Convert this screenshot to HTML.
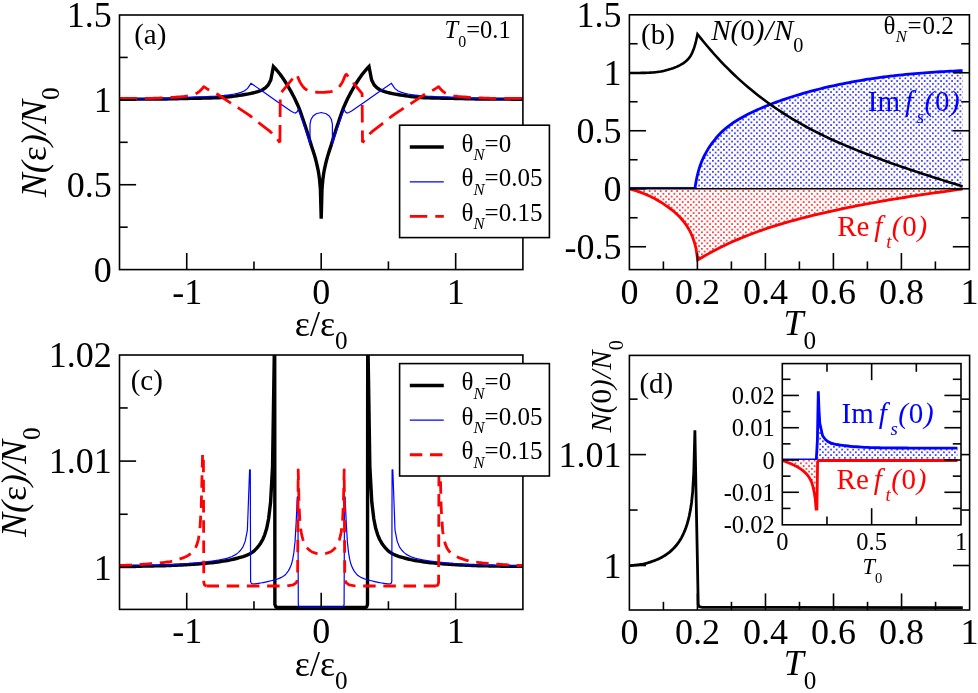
<!DOCTYPE html>
<html><head><meta charset="utf-8"><title>Figure</title>
<style>html,body{margin:0;padding:0;background:#fff;}body{width:978px;height:693px;overflow:hidden;font-family:"Liberation Serif",serif;}</style>
</head><body>
<svg width="978" height="693" viewBox="0 0 978 693" font-family="'Liberation Serif', serif" style="display:block;will-change:transform;opacity:0.999">
<rect width="978" height="693" fill="#fff"/>
<defs>
<pattern id="pb" x="2.5" y="0.4" width="5.5" height="5.5" patternUnits="userSpaceOnUse"><rect width="5.5" height="5.5" fill="#fff"/><circle cx="0.9" cy="0.9" r="0.88" fill="#0000ff"/><circle cx="3.65" cy="3.65" r="0.88" fill="#0000ff"/></pattern>
<pattern id="pr" x="2.5" y="0.4" width="5.5" height="5.5" patternUnits="userSpaceOnUse"><rect width="5.5" height="5.5" fill="#fff"/><circle cx="0.9" cy="0.9" r="0.88" fill="#ff0000"/><circle cx="3.65" cy="3.65" r="0.88" fill="#ff0000"/></pattern>
</defs>
<clipPath id="cA"><rect x="119.5" y="15" width="403.4" height="254.6"/></clipPath>
<g clip-path="url(#cA)">
<path d="M119.5 99.2 L122.11 99.2 L124.72 99.2 L127.33 99.19 L129.93 99.18 L132.54 99.17 L135.15 99.16 L137.76 99.15 L140.37 99.14 L142.98 99.12 L145.58 99.11 L148.19 99.09 L150.8 99.07 L153.41 99.05 L156.02 99.03 L158.63 99.01 L161.24 98.99 L163.84 98.96 L166.45 98.93 L169.06 98.88 L171.67 98.84 L174.28 98.78 L176.89 98.73 L179.49 98.67 L182.1 98.61 L184.71 98.55 L187.32 98.48 L189.93 98.42 L192.54 98.36 L195.15 98.3 L197.75 98.24 L200.36 98.19 L202.97 98.13 L205.58 98.08 L208.19 98.02 L210.8 97.95 L213.41 97.87 L216.01 97.78 L218.62 97.68 L221.23 97.52 L223.84 97.31 L226.45 97.05 L229.06 96.77 L231.66 96.48 L234.27 96.16 L236.88 95.8 L239.49 95.39 L242.1 94.97 L244.71 94.53 L247.32 94.07 L249.92 93.57 L252.53 93.01 L255.14 92.36 L257.75 91.61 L260.36 90.67 L262.97 89.46 L265.57 87.7 L268.18 85.01 L270.79 79.95 L273.4 66.5 L274.21 67.34 L275.02 68.2 L275.83 69.1 L276.64 70.03 L277.45 70.99 L278.26 71.98 L279.07 73 L279.88 74.04 L280.69 75.12 L281.5 76.23 L282.31 77.38 L283.12 78.56 L283.93 79.76 L284.74 81 L285.55 82.27 L286.36 83.57 L287.17 84.89 L287.98 86.24 L288.79 87.62 L289.6 89.03 L290.41 90.46 L291.22 91.92 L292.03 93.4 L292.84 94.93 L293.65 96.49 L294.46 98.1 L295.27 99.75 L296.08 101.46 L296.89 103.22 L297.71 105.05 L298.52 106.94 L299.33 108.95 L300.14 111.12 L300.95 113.39 L301.76 115.75 L302.57 118.13 L303.38 120.52 L304.19 122.92 L305 125.36 L305.81 127.84 L306.62 130.35 L307.43 132.89 L308.24 135.45 L309.05 138.05 L309.86 140.68 L310.67 143.32 L311.48 145.9 L312.29 148.4 L313.1 150.89 L313.91 153.43 L314.72 156.09 L315.53 158.95 L316.34 162.07 L317.15 165.52 L317.96 169.31 L318.77 173.82 L319.58 179.82 L320.39 189 L321.2 218.8 L322.01 189 L322.82 179.82 L323.63 173.82 L324.44 169.31 L325.25 165.52 L326.06 162.07 L326.87 158.95 L327.68 156.09 L328.49 153.43 L329.3 150.89 L330.11 148.4 L330.92 145.9 L331.73 143.32 L332.54 140.68 L333.35 138.05 L334.16 135.45 L334.97 132.89 L335.78 130.35 L336.59 127.84 L337.4 125.36 L338.21 122.92 L339.02 120.52 L339.83 118.13 L340.64 115.75 L341.45 113.39 L342.26 111.12 L343.07 108.95 L343.88 106.94 L344.69 105.05 L345.51 103.22 L346.32 101.46 L347.13 99.75 L347.94 98.1 L348.75 96.49 L349.56 94.93 L350.37 93.4 L351.18 91.92 L351.99 90.46 L352.8 89.03 L353.61 87.62 L354.42 86.24 L355.23 84.89 L356.04 83.57 L356.85 82.27 L357.66 81 L358.47 79.76 L359.28 78.56 L360.09 77.38 L360.9 76.23 L361.71 75.12 L362.52 74.04 L363.33 73 L364.14 71.98 L364.95 70.99 L365.76 70.03 L366.57 69.1 L367.38 68.2 L368.19 67.34 L369 66.5 L371.61 79.95 L374.22 85.01 L376.83 87.7 L379.43 89.46 L382.04 90.67 L384.65 91.61 L387.26 92.36 L389.87 93.01 L392.48 93.57 L395.08 94.07 L397.69 94.53 L400.3 94.97 L402.91 95.39 L405.52 95.8 L408.13 96.16 L410.74 96.48 L413.34 96.77 L415.95 97.05 L418.56 97.31 L421.17 97.52 L423.78 97.68 L426.39 97.78 L428.99 97.87 L431.6 97.95 L434.21 98.02 L436.82 98.08 L439.43 98.13 L442.04 98.19 L444.65 98.24 L447.25 98.3 L449.86 98.36 L452.47 98.42 L455.08 98.48 L457.69 98.55 L460.3 98.61 L462.91 98.67 L465.51 98.73 L468.12 98.78 L470.73 98.84 L473.34 98.88 L475.95 98.93 L478.56 98.96 L481.16 98.99 L483.77 99.01 L486.38 99.03 L488.99 99.05 L491.6 99.07 L494.21 99.09 L496.82 99.11 L499.42 99.12 L502.03 99.14 L504.64 99.15 L507.25 99.16 L509.86 99.17 L512.47 99.18 L515.07 99.19 L517.68 99.2 L520.29 99.2 L522.9 99.2" fill="none" stroke="#000" stroke-width="3.4" stroke-linejoin="miter" stroke-miterlimit="10"/>
<path d="M119.5 99 L122.87 99 L126.24 98.99 L129.62 98.98 L132.99 98.96 L136.36 98.94 L139.73 98.92 L143.1 98.89 L146.47 98.86 L149.85 98.82 L153.22 98.78 L156.59 98.74 L159.96 98.7 L163.33 98.64 L166.71 98.54 L170.08 98.41 L173.45 98.26 L176.82 98.08 L180.19 97.9 L183.56 97.71 L186.94 97.52 L190.31 97.34 L193.68 97.16 L197.05 97.01 L200.42 96.87 L203.79 96.73 L207.17 96.59 L210.54 96.44 L213.91 96.26 L217.28 96.06 L220.65 95.8 L224.03 95.47 L227.4 95.06 L230.77 94.58 L234.14 94.02 L237.51 93.32 L240.88 92.38 L244.26 91.03 L247.63 88.39 L251 83.3 L264.3 92.5 L278.1 102.3 L290.8 111 L293.5 112.5 L295.4 113 L297.1 111.8 L298.4 109.2 L302.2 120 L306 131 L309.3 141.5 L309.9 143.6 L310 139.6 L310 124 L311 119.5 L313.2 116 L316.2 113.7 L321.2 112.5 L326.2 113.7 L329.2 116 L331.4 119.5 L332.4 124 L332.4 139.6 L332.5 143.6 L333.1 141.5 L336.4 131 L340.2 120 L344 109.2 L345.3 111.8 L347 113 L348.9 112.5 L351.6 111 L364.3 102.3 L378.1 92.5 L391.4 83.3 L394.77 88.39 L398.14 91.03 L401.52 92.38 L404.89 93.32 L408.26 94.02 L411.63 94.58 L415 95.06 L418.37 95.47 L421.75 95.8 L425.12 96.06 L428.49 96.26 L431.86 96.44 L435.23 96.59 L438.61 96.73 L441.98 96.87 L445.35 97.01 L448.72 97.16 L452.09 97.34 L455.46 97.52 L458.84 97.71 L462.21 97.9 L465.58 98.08 L468.95 98.26 L472.32 98.41 L475.69 98.54 L479.07 98.64 L482.44 98.7 L485.81 98.74 L489.18 98.78 L492.55 98.82 L495.93 98.86 L499.3 98.89 L502.67 98.92 L506.04 98.94 L509.41 98.96 L512.78 98.98 L516.16 98.99 L519.53 99 L522.9 99" fill="none" stroke="#0000ff" stroke-width="1.2" stroke-linejoin="miter" stroke-miterlimit="10"/>
<path d="M119.5 98.4 L121.66 98.4 L123.82 98.4 L125.98 98.4 L128.15 98.4 L130.31 98.4 L132.47 98.4 L134.63 98.4 L136.79 98.4 L138.95 98.4 L141.12 98.4 L143.28 98.4 L145.44 98.4 L147.6 98.38 L149.76 98.34 L151.92 98.28 L154.08 98.21 L156.25 98.14 L158.41 98.05 L160.57 97.97 L162.73 97.88 L164.89 97.79 L167.05 97.68 L169.22 97.56 L171.38 97.43 L173.54 97.3 L175.7 97.16 L177.86 97.01 L180.02 96.84 L182.18 96.65 L184.35 96.44 L186.51 96.18 L188.67 95.88 L190.83 95.45 L192.99 94.85 L195.15 94.1 L197.32 92.99 L199.48 91.39 L201.64 89.35 L203.8 86.6 L206.42 88.38 L209.05 90 L211.67 91.38 L214.3 92.62 L216.92 93.99 L219.54 95.57 L222.17 97.27 L224.79 99.05 L227.42 100.85 L230.04 102.61 L232.67 104.31 L235.29 105.96 L237.91 107.64 L240.54 109.35 L243.16 111.07 L245.79 112.83 L248.41 114.63 L251.03 116.51 L253.66 118.51 L256.28 120.67 L258.91 122.83 L261.53 124.85 L264.16 126.81 L266.78 128.8 L269.4 130.91 L272.03 133.24 L274.65 135.93 L277.28 139.02 L279.9 142.6" fill="none" stroke="#ff0000" stroke-width="2.8" stroke-linejoin="round" stroke-miterlimit="10" stroke-dasharray="17.5 8"/>
<path d="M279.9 142.6 L280.3 93.6 L293.1 78 L295.9 74.3 L297.23 75.37 L298.56 78.9 L299.89 81.82 L301.23 84.18 L302.56 86.02 L303.89 87.62 L305.22 88.89 L306.55 89.69 L307.88 90.32 L309.22 90.86 L310.55 91.3 L311.88 91.64 L313.21 91.87 L314.54 92.01 L315.87 92.14 L317.21 92.24 L318.54 92.33 L319.87 92.38 L321.2 92.4 L322.53 92.38 L323.86 92.33 L325.19 92.24 L326.53 92.14 L327.86 92.01 L329.19 91.87 L330.52 91.64 L331.85 91.3 L333.18 90.86 L334.52 90.32 L335.85 89.69 L337.18 88.89 L338.51 87.62 L339.84 86.02 L341.17 84.18 L342.51 81.82 L343.84 78.9 L345.17 75.37 L346.5 74.3 L349.3 78 L362.1 93.6 L362.5 142.6" fill="none" stroke="#ff0000" stroke-width="2.8" stroke-linejoin="round" stroke-miterlimit="10" stroke-dasharray="17.5 8"/>
<path d="M362.5 142.6 L365.12 139.02 L367.75 135.93 L370.37 133.24 L373 130.91 L375.62 128.8 L378.24 126.81 L380.87 124.85 L383.49 122.83 L386.12 120.67 L388.74 118.51 L391.37 116.51 L393.99 114.63 L396.61 112.83 L399.24 111.07 L401.86 109.35 L404.49 107.64 L407.11 105.96 L409.73 104.31 L412.36 102.61 L414.98 100.85 L417.61 99.05 L420.23 97.27 L422.86 95.57 L425.48 93.99 L428.1 92.62 L430.73 91.38 L433.35 90 L435.98 88.38 L438.6 86.6 L440.76 89.35 L442.92 91.39 L445.08 92.99 L447.25 94.1 L449.41 94.85 L451.57 95.45 L453.73 95.88 L455.89 96.18 L458.05 96.44 L460.22 96.65 L462.38 96.84 L464.54 97.01 L466.7 97.16 L468.86 97.3 L471.02 97.43 L473.18 97.56 L475.35 97.68 L477.51 97.79 L479.67 97.88 L481.83 97.97 L483.99 98.05 L486.15 98.14 L488.32 98.21 L490.48 98.28 L492.64 98.34 L494.8 98.38 L496.96 98.4 L499.12 98.4 L501.28 98.4 L503.45 98.4 L505.61 98.4 L507.77 98.4 L509.93 98.4 L512.09 98.4 L514.25 98.4 L516.42 98.4 L518.58 98.4 L520.74 98.4 L522.9 98.4" fill="none" stroke="#ff0000" stroke-width="2.8" stroke-linejoin="round" stroke-miterlimit="10" stroke-dasharray="17.5 8" stroke-dashoffset="14.51"/>
</g>
<rect x="119.5" y="15" width="403.4" height="254.6" fill="none" stroke="#000" stroke-width="1.6"/>
<line x1="119.5" y1="184.73" x2="136.1" y2="184.73" stroke="#000" stroke-width="1.6"/>
<line x1="119.5" y1="99.87" x2="136.1" y2="99.87" stroke="#000" stroke-width="1.6"/>
<line x1="119.5" y1="227.17" x2="127.7" y2="227.17" stroke="#000" stroke-width="1.6"/>
<line x1="119.5" y1="142.3" x2="127.7" y2="142.3" stroke="#000" stroke-width="1.6"/>
<line x1="119.5" y1="57.43" x2="127.7" y2="57.43" stroke="#000" stroke-width="1.6"/>
<line x1="186.73" y1="269.6" x2="186.73" y2="253" stroke="#000" stroke-width="1.6"/>
<line x1="321.2" y1="269.6" x2="321.2" y2="253" stroke="#000" stroke-width="1.6"/>
<line x1="455.67" y1="269.6" x2="455.67" y2="253" stroke="#000" stroke-width="1.6"/>
<line x1="253.97" y1="269.6" x2="253.97" y2="261.4" stroke="#000" stroke-width="1.6"/>
<line x1="388.43" y1="269.6" x2="388.43" y2="261.4" stroke="#000" stroke-width="1.6"/>
<g fill="#000"><text x="66.7" y="27.2" font-size="36">1.5</text></g>
<g fill="#000"><text x="93.7" y="112.07" font-size="36">1</text></g>
<g fill="#000"><text x="66.7" y="196.93" font-size="36">0.5</text></g>
<g fill="#000"><text x="93.7" y="281.8" font-size="36">0</text></g>
<g fill="#000"><text x="172.24" y="303.5" font-size="36">-1</text></g>
<g fill="#000"><text x="312.2" y="303.5" font-size="36">0</text></g>
<g fill="#000"><text x="446.67" y="303.5" font-size="36">1</text></g>
<g fill="#000"><text x="294.77" y="335.8" font-size="36">ε</text><text x="309.89" y="335.8" font-size="36">/</text><text x="319.89" y="335.8" font-size="36">ε</text><text x="335.01" y="349.4" font-size="25.2">0</text></g>
<g fill="#000" transform="rotate(-90 45.6 142.3)"><text x="-9.27" y="142.3" font-size="36" font-style="italic">N</text><text x="14.74" y="142.3" font-size="36" font-style="italic">(</text><text x="26.73" y="142.3" font-size="36">ε</text><text x="41.84" y="142.3" font-size="36" font-style="italic">)</text><text x="53.83" y="142.3" font-size="36" font-style="italic">/</text><text x="63.84" y="142.3" font-size="36" font-style="italic">N</text><text x="87.85" y="155.9" font-size="25.2">0</text></g>
<g fill="#000"><text x="134.2" y="44.3" font-size="29">(a)</text></g>
<g fill="#000"><text x="444.6" y="37.7" font-size="24.5" font-style="italic">T</text><text x="458.23" y="47.1" font-size="15.93">0</text><text x="466.23" y="37.7" font-size="24.5">=0.1</text></g>
<rect x="399.6" y="125.2" width="149.8" height="112.4" fill="#fff" stroke="#000" stroke-width="1.6"/>
<line x1="409.8" y1="147.1" x2="443.8" y2="147.1" stroke="#000" stroke-width="3.5"/>
<line x1="409.8" y1="181.8" x2="443.8" y2="181.8" stroke="#0000ff" stroke-width="1.2"/>
<line x1="409.8" y1="216.4" x2="443.8" y2="216.4" stroke="#ff0000" stroke-width="2.9" stroke-dasharray="17.5 8"/>
<g fill="#000"><text x="461.6" y="151.5" font-size="25">θ</text><text x="473.58" y="160.1" font-size="16.5" font-style="italic">N</text><text x="484.58" y="151.5" font-size="25">=</text><text x="498.68" y="151.5" font-size="25">0</text></g>
<g fill="#000"><text x="461.6" y="186.2" font-size="25">θ</text><text x="473.58" y="194.8" font-size="16.5" font-style="italic">N</text><text x="484.58" y="186.2" font-size="25">=</text><text x="498.68" y="186.2" font-size="25">0.05</text></g>
<g fill="#000"><text x="461.6" y="220.8" font-size="25">θ</text><text x="473.58" y="229.4" font-size="16.5" font-style="italic">N</text><text x="484.58" y="220.8" font-size="25">=</text><text x="498.68" y="220.8" font-size="25">0.15</text></g>
<clipPath id="cB"><rect x="629.4" y="14.8" width="340" height="254.8"/></clipPath>
<g clip-path="url(#cB)">
<path d="M695 188.75 L695 188.2 L695.62 183.86 L696.25 180.46 L696.87 177.44 L697.5 174.75 L698.12 172.32 L698.74 170.09 L699.37 168.01 L699.99 166.08 L700.62 164.3 L701.24 162.65 L701.87 161.11 L702.49 159.66 L703.11 158.29 L703.74 156.98 L704.36 155.72 L704.99 154.52 L705.61 153.37 L706.23 152.25 L706.86 151.16 L707.48 150.09 L708.11 149.05 L708.73 148.03 L709.36 147.04 L709.98 146.08 L710.6 145.16 L711.23 144.26 L711.85 143.41 L712.48 142.58 L713.1 141.8 L716.26 137.8 L719.42 134.25 L722.57 131.1 L725.73 128.3 L728.89 125.79 L732.05 123.52 L735.21 121.44 L738.37 119.5 L741.52 117.67 L744.68 115.94 L747.84 114.31 L751 112.74 L754.16 111.25 L757.32 109.82 L760.47 108.43 L763.63 107.09 L766.79 105.79 L769.95 104.53 L773.11 103.31 L776.26 102.13 L779.42 100.99 L782.58 99.88 L785.74 98.81 L788.9 97.76 L792.06 96.75 L795.21 95.76 L798.37 94.8 L801.53 93.86 L804.69 92.95 L807.85 92.06 L811.01 91.2 L814.16 90.35 L817.32 89.53 L820.48 88.74 L823.64 87.96 L826.8 87.21 L829.95 86.48 L833.11 85.77 L836.27 85.08 L839.43 84.41 L842.59 83.76 L845.75 83.13 L848.9 82.52 L852.06 81.93 L855.22 81.35 L858.38 80.8 L861.54 80.26 L864.69 79.75 L867.85 79.24 L871.01 78.76 L874.17 78.29 L877.33 77.84 L880.49 77.41 L883.64 76.99 L886.8 76.58 L889.96 76.19 L893.12 75.82 L896.28 75.46 L899.44 75.11 L902.59 74.78 L905.75 74.46 L908.91 74.16 L912.07 73.86 L915.23 73.58 L918.38 73.31 L921.54 73.05 L924.7 72.81 L927.86 72.57 L931.02 72.35 L934.18 72.13 L937.33 71.93 L940.49 71.73 L943.65 71.54 L946.81 71.37 L949.97 71.2 L953.13 71.04 L956.28 70.88 L959.44 70.74 L962.6 70.6 L962.6 188.75" fill="url(#pb)" stroke="none" stroke-width="0" stroke-linejoin="miter" stroke-miterlimit="10"/>
<path d="M629.4 188.35 L694.5 188.35 L695 188.2 L695.62 183.86 L696.25 180.46 L696.87 177.44 L697.5 174.75 L698.12 172.32 L698.74 170.09 L699.37 168.01 L699.99 166.08 L700.62 164.3 L701.24 162.65 L701.87 161.11 L702.49 159.66 L703.11 158.29 L703.74 156.98 L704.36 155.72 L704.99 154.52 L705.61 153.37 L706.23 152.25 L706.86 151.16 L707.48 150.09 L708.11 149.05 L708.73 148.03 L709.36 147.04 L709.98 146.08 L710.6 145.16 L711.23 144.26 L711.85 143.41 L712.48 142.58 L713.1 141.8 L716.26 137.8 L719.42 134.25 L722.57 131.1 L725.73 128.3 L728.89 125.79 L732.05 123.52 L735.21 121.44 L738.37 119.5 L741.52 117.67 L744.68 115.94 L747.84 114.31 L751 112.74 L754.16 111.25 L757.32 109.82 L760.47 108.43 L763.63 107.09 L766.79 105.79 L769.95 104.53 L773.11 103.31 L776.26 102.13 L779.42 100.99 L782.58 99.88 L785.74 98.81 L788.9 97.76 L792.06 96.75 L795.21 95.76 L798.37 94.8 L801.53 93.86 L804.69 92.95 L807.85 92.06 L811.01 91.2 L814.16 90.35 L817.32 89.53 L820.48 88.74 L823.64 87.96 L826.8 87.21 L829.95 86.48 L833.11 85.77 L836.27 85.08 L839.43 84.41 L842.59 83.76 L845.75 83.13 L848.9 82.52 L852.06 81.93 L855.22 81.35 L858.38 80.8 L861.54 80.26 L864.69 79.75 L867.85 79.24 L871.01 78.76 L874.17 78.29 L877.33 77.84 L880.49 77.41 L883.64 76.99 L886.8 76.58 L889.96 76.19 L893.12 75.82 L896.28 75.46 L899.44 75.11 L902.59 74.78 L905.75 74.46 L908.91 74.16 L912.07 73.86 L915.23 73.58 L918.38 73.31 L921.54 73.05 L924.7 72.81 L927.86 72.57 L931.02 72.35 L934.18 72.13 L937.33 71.93 L940.49 71.73 L943.65 71.54 L946.81 71.37 L949.97 71.2 L953.13 71.04 L956.28 70.88 L959.44 70.74 L962.6 70.6" fill="none" stroke="#0000ff" stroke-width="2.8" stroke-linejoin="round" stroke-miterlimit="10"/>
<path d="M629.4 188.75 L629.6 189 L631.35 189.45 L633.09 189.94 L634.84 190.46 L636.58 191 L638.33 191.58 L640.08 192.18 L641.82 192.83 L643.57 193.51 L645.32 194.22 L647.06 194.96 L648.81 195.74 L650.55 196.56 L652.3 197.41 L654.05 198.31 L655.79 199.24 L657.54 200.22 L659.28 201.24 L661.03 202.31 L662.78 203.43 L664.52 204.59 L666.27 205.79 L668.02 207.02 L669.76 208.29 L671.51 209.62 L673.25 211.02 L675 212.52 L676.75 214.11 L678.49 215.78 L680.24 217.57 L681.98 219.51 L683.73 221.63 L685.48 223.96 L687.22 226.53 L688.97 229.44 L690.72 232.77 L692.46 236.68 L694.21 241.73 L695.95 248.07 L697.7 260 L701.05 257.98 L704.41 256.03 L707.76 254.13 L711.11 252.29 L714.47 250.5 L717.82 248.76 L721.17 247.07 L724.53 245.44 L727.88 243.85 L731.23 242.31 L734.58 240.81 L737.94 239.36 L741.29 237.95 L744.64 236.58 L748 235.25 L751.35 233.96 L754.7 232.71 L758.06 231.49 L761.41 230.31 L764.76 229.16 L768.12 228.04 L771.47 226.95 L774.82 225.89 L778.18 224.86 L781.53 223.85 L784.88 222.87 L788.24 221.91 L791.59 220.97 L794.94 220.05 L798.29 219.16 L801.65 218.27 L805 217.41 L808.35 216.56 L811.71 215.73 L815.06 214.91 L818.41 214.1 L821.77 213.31 L825.12 212.53 L828.47 211.77 L831.83 211.02 L835.18 210.28 L838.53 209.55 L841.89 208.84 L845.24 208.14 L848.59 207.45 L851.95 206.77 L855.3 206.1 L858.65 205.45 L862.01 204.8 L865.36 204.17 L868.71 203.54 L872.06 202.93 L875.42 202.32 L878.77 201.72 L882.12 201.14 L885.48 200.56 L888.83 199.99 L892.18 199.42 L895.54 198.87 L898.89 198.32 L902.24 197.78 L905.6 197.25 L908.95 196.72 L912.3 196.2 L915.66 195.69 L919.01 195.18 L922.36 194.68 L925.72 194.18 L929.07 193.69 L932.42 193.21 L935.77 192.72 L939.13 192.25 L942.48 191.77 L945.83 191.3 L949.19 190.84 L952.54 190.37 L955.89 189.91 L959.25 189.45 L962.6 189 L962.6 188.75" fill="url(#pr)" stroke="none" stroke-width="0" stroke-linejoin="miter" stroke-miterlimit="10"/>
<path d="M629.6 189 L631.35 189.45 L633.09 189.94 L634.84 190.46 L636.58 191 L638.33 191.58 L640.08 192.18 L641.82 192.83 L643.57 193.51 L645.32 194.22 L647.06 194.96 L648.81 195.74 L650.55 196.56 L652.3 197.41 L654.05 198.31 L655.79 199.24 L657.54 200.22 L659.28 201.24 L661.03 202.31 L662.78 203.43 L664.52 204.59 L666.27 205.79 L668.02 207.02 L669.76 208.29 L671.51 209.62 L673.25 211.02 L675 212.52 L676.75 214.11 L678.49 215.78 L680.24 217.57 L681.98 219.51 L683.73 221.63 L685.48 223.96 L687.22 226.53 L688.97 229.44 L690.72 232.77 L692.46 236.68 L694.21 241.73 L695.95 248.07 L697.7 260 L701.05 257.98 L704.41 256.03 L707.76 254.13 L711.11 252.29 L714.47 250.5 L717.82 248.76 L721.17 247.07 L724.53 245.44 L727.88 243.85 L731.23 242.31 L734.58 240.81 L737.94 239.36 L741.29 237.95 L744.64 236.58 L748 235.25 L751.35 233.96 L754.7 232.71 L758.06 231.49 L761.41 230.31 L764.76 229.16 L768.12 228.04 L771.47 226.95 L774.82 225.89 L778.18 224.86 L781.53 223.85 L784.88 222.87 L788.24 221.91 L791.59 220.97 L794.94 220.05 L798.29 219.16 L801.65 218.27 L805 217.41 L808.35 216.56 L811.71 215.73 L815.06 214.91 L818.41 214.1 L821.77 213.31 L825.12 212.53 L828.47 211.77 L831.83 211.02 L835.18 210.28 L838.53 209.55 L841.89 208.84 L845.24 208.14 L848.59 207.45 L851.95 206.77 L855.3 206.1 L858.65 205.45 L862.01 204.8 L865.36 204.17 L868.71 203.54 L872.06 202.93 L875.42 202.32 L878.77 201.72 L882.12 201.14 L885.48 200.56 L888.83 199.99 L892.18 199.42 L895.54 198.87 L898.89 198.32 L902.24 197.78 L905.6 197.25 L908.95 196.72 L912.3 196.2 L915.66 195.69 L919.01 195.18 L922.36 194.68 L925.72 194.18 L929.07 193.69 L932.42 193.21 L935.77 192.72 L939.13 192.25 L942.48 191.77 L945.83 191.3 L949.19 190.84 L952.54 190.37 L955.89 189.91 L959.25 189.45 L962.6 189" fill="none" stroke="#ff0000" stroke-width="2.8" stroke-linejoin="miter" stroke-miterlimit="10"/>
<path d="M629.4 73 L631.15 73 L632.89 72.99 L634.64 72.98 L636.38 72.97 L638.13 72.95 L639.88 72.93 L641.62 72.91 L643.37 72.88 L645.12 72.84 L646.86 72.79 L648.61 72.72 L650.35 72.63 L652.1 72.53 L653.85 72.39 L655.59 72.2 L657.34 71.98 L659.08 71.74 L660.83 71.47 L662.58 71.14 L664.32 70.75 L666.07 70.31 L667.82 69.85 L669.56 69.35 L671.31 68.81 L673.05 68.2 L674.8 67.54 L676.55 66.83 L678.29 66.05 L680.04 65.19 L681.78 64.21 L683.53 63.09 L685.28 61.79 L687.02 60.24 L688.77 58.37 L690.52 56.03 L692.26 52.6 L694.01 48.29 L695.75 42.46 L697.5 34.2 L700.86 38.41 L704.21 42.53 L707.57 46.54 L710.92 50.44 L714.28 54.24 L717.63 57.94 L720.99 61.53 L724.35 65.03 L727.7 68.43 L731.06 71.74 L734.41 74.97 L737.77 78.1 L741.12 81.15 L744.48 84.11 L747.84 87 L751.19 89.81 L754.55 92.54 L757.9 95.2 L761.26 97.78 L764.61 100.3 L767.97 102.76 L771.33 105.15 L774.68 107.48 L778.04 109.75 L781.39 111.96 L784.75 114.12 L788.1 116.23 L791.46 118.28 L794.82 120.28 L798.17 122.24 L801.53 124.15 L804.88 126.01 L808.24 127.83 L811.59 129.6 L814.95 131.34 L818.31 133.03 L821.66 134.69 L825.02 136.31 L828.37 137.9 L831.73 139.45 L835.08 140.97 L838.44 142.47 L841.79 143.93 L845.15 145.37 L848.51 146.78 L851.86 148.17 L855.22 149.53 L858.57 150.88 L861.93 152.2 L865.28 153.51 L868.64 154.8 L872 156.08 L875.35 157.34 L878.71 158.59 L882.06 159.82 L885.42 161.04 L888.77 162.24 L892.13 163.43 L895.49 164.61 L898.84 165.78 L902.2 166.94 L905.55 168.08 L908.91 169.22 L912.26 170.34 L915.62 171.46 L918.98 172.57 L922.33 173.66 L925.69 174.76 L929.04 175.84 L932.4 176.92 L935.75 177.99 L939.11 179.06 L942.47 180.12 L945.82 181.17 L949.18 182.22 L952.53 183.27 L955.89 184.32 L959.24 185.36 L962.6 186.4" fill="none" stroke="#000" stroke-width="2.6" stroke-linejoin="miter" stroke-miterlimit="10"/>
<line x1="629.4" y1="188.75" x2="962.6" y2="188.75" stroke="#000" stroke-width="1.4"/>
</g>
<rect x="629.4" y="14.8" width="340" height="254.8" fill="none" stroke="#000" stroke-width="1.6"/>
<line x1="629.4" y1="246.75" x2="646" y2="246.75" stroke="#000" stroke-width="1.6"/>
<line x1="969.4" y1="246.75" x2="952.8" y2="246.75" stroke="#000" stroke-width="1.6"/>
<line x1="629.4" y1="188.75" x2="646" y2="188.75" stroke="#000" stroke-width="1.6"/>
<line x1="969.4" y1="188.75" x2="952.8" y2="188.75" stroke="#000" stroke-width="1.6"/>
<line x1="629.4" y1="130.75" x2="646" y2="130.75" stroke="#000" stroke-width="1.6"/>
<line x1="969.4" y1="130.75" x2="952.8" y2="130.75" stroke="#000" stroke-width="1.6"/>
<line x1="629.4" y1="72.75" x2="646" y2="72.75" stroke="#000" stroke-width="1.6"/>
<line x1="969.4" y1="72.75" x2="952.8" y2="72.75" stroke="#000" stroke-width="1.6"/>
<line x1="629.4" y1="217.75" x2="637.6" y2="217.75" stroke="#000" stroke-width="1.6"/>
<line x1="969.4" y1="217.75" x2="961.2" y2="217.75" stroke="#000" stroke-width="1.6"/>
<line x1="629.4" y1="159.75" x2="637.6" y2="159.75" stroke="#000" stroke-width="1.6"/>
<line x1="969.4" y1="159.75" x2="961.2" y2="159.75" stroke="#000" stroke-width="1.6"/>
<line x1="629.4" y1="101.75" x2="637.6" y2="101.75" stroke="#000" stroke-width="1.6"/>
<line x1="969.4" y1="101.75" x2="961.2" y2="101.75" stroke="#000" stroke-width="1.6"/>
<line x1="629.4" y1="43.75" x2="637.6" y2="43.75" stroke="#000" stroke-width="1.6"/>
<line x1="969.4" y1="43.75" x2="961.2" y2="43.75" stroke="#000" stroke-width="1.6"/>
<line x1="697.4" y1="269.6" x2="697.4" y2="253" stroke="#000" stroke-width="1.6"/>
<line x1="765.4" y1="269.6" x2="765.4" y2="253" stroke="#000" stroke-width="1.6"/>
<line x1="833.4" y1="269.6" x2="833.4" y2="253" stroke="#000" stroke-width="1.6"/>
<line x1="901.4" y1="269.6" x2="901.4" y2="253" stroke="#000" stroke-width="1.6"/>
<line x1="663.4" y1="269.6" x2="663.4" y2="261.4" stroke="#000" stroke-width="1.6"/>
<line x1="731.4" y1="269.6" x2="731.4" y2="261.4" stroke="#000" stroke-width="1.6"/>
<line x1="799.4" y1="269.6" x2="799.4" y2="261.4" stroke="#000" stroke-width="1.6"/>
<line x1="867.4" y1="269.6" x2="867.4" y2="261.4" stroke="#000" stroke-width="1.6"/>
<line x1="935.4" y1="269.6" x2="935.4" y2="261.4" stroke="#000" stroke-width="1.6"/>
<g fill="#000"><text x="576.6" y="26.95" font-size="36">1.5</text></g>
<g fill="#000"><text x="603.6" y="84.95" font-size="36">1</text></g>
<g fill="#000"><text x="576.6" y="142.95" font-size="36">0.5</text></g>
<g fill="#000"><text x="603.6" y="200.95" font-size="36">0</text></g>
<g fill="#000"><text x="564.61" y="258.95" font-size="36">-0.5</text></g>
<g fill="#000"><text x="620.4" y="303.5" font-size="36">0</text></g>
<g fill="#000"><text x="674.9" y="303.5" font-size="36">0.2</text></g>
<g fill="#000"><text x="742.9" y="303.5" font-size="36">0.4</text></g>
<g fill="#000"><text x="810.9" y="303.5" font-size="36">0.6</text></g>
<g fill="#000"><text x="878.9" y="303.5" font-size="36">0.8</text></g>
<g fill="#000"><text x="960.4" y="303.5" font-size="36">1</text></g>
<g fill="#000"><text x="783.58" y="335.2" font-size="36" font-style="italic">T</text><text x="803.6" y="349" font-size="25.2">0</text></g>
<g fill="#000"><text x="641" y="43.9" font-size="29">(b)</text></g>
<g fill="#000"><text x="711.2" y="40" font-size="29" font-style="italic">N</text><text x="730.54" y="40" font-size="29" font-style="italic">(</text><text x="740.2" y="40" font-size="29">0</text><text x="754.7" y="40" font-size="29" font-style="italic">)</text><text x="765.16" y="40" font-size="29" font-style="italic">/</text><text x="774.01" y="40" font-size="29" font-style="italic">N</text><text x="793.36" y="52.2" font-size="20.3">0</text></g>
<g fill="#000"><text x="883.6" y="33.7" font-size="25">θ</text><text x="895.79" y="42.3" font-size="16.5" font-style="italic">N</text><text x="907.42" y="33.7" font-size="25">=</text><text x="922.57" y="33.7" font-size="25">0.2</text></g>
<g fill="#0000ff"><text x="867.8" y="111" font-size="29">Im</text><text x="904.88" y="111" font-size="29" font-style="italic">f</text><text x="916.73" y="122.89" font-size="18.85" font-style="italic">s</text><text x="924.53" y="111" font-size="29" font-style="italic">(</text><text x="934.89" y="111" font-size="29">0</text><text x="950.09" y="111" font-size="29" font-style="italic">)</text></g>
<g fill="#ff0000"><text x="837.2" y="236" font-size="29">Re</text><text x="874.28" y="236" font-size="29" font-style="italic">f</text><text x="886.13" y="247.89" font-size="18.85" font-style="italic">t</text><text x="891.84" y="236" font-size="29" font-style="italic">(</text><text x="902.2" y="236" font-size="29">0</text><text x="917.4" y="236" font-size="29" font-style="italic">)</text></g>
<clipPath id="cC"><rect x="119.5" y="355" width="403.4" height="254.4"/></clipPath>
<g clip-path="url(#cC)">
<path d="M119.5 566.4 L121.46 566.4 L123.42 566.39 L125.39 566.38 L127.35 566.37 L129.31 566.35 L131.27 566.33 L133.23 566.31 L135.2 566.28 L137.16 566.26 L139.12 566.23 L141.08 566.19 L143.04 566.16 L145.01 566.12 L146.97 566.08 L148.93 566.04 L150.89 566 L152.85 565.96 L154.82 565.92 L156.78 565.87 L158.74 565.83 L160.7 565.78 L162.66 565.73 L164.63 565.68 L166.59 565.62 L168.55 565.55 L170.51 565.48 L172.47 565.4 L174.44 565.32 L176.4 565.24 L178.36 565.15 L180.32 565.05 L182.28 564.95 L184.25 564.85 L186.21 564.74 L188.17 564.62 L190.13 564.51 L192.09 564.39 L194.06 564.26 L196.02 564.13 L197.98 563.99 L199.94 563.84 L201.91 563.68 L203.87 563.5 L205.83 563.32 L207.79 563.12 L209.75 562.91 L211.72 562.69 L213.68 562.46 L215.64 562.22 L217.6 561.96 L219.56 561.7 L221.53 561.42 L223.49 561.13 L225.45 560.83 L227.41 560.49 L229.37 560.11 L231.34 559.7 L233.3 559.24 L235.26 558.75 L237.22 558.24 L239.18 557.69 L241.15 557.12 L243.11 556.53 L245.07 555.89 L247.03 555.15 L248.99 554.27 L250.96 553.22 L252.92 551.86 L254.88 550.16 L256.84 548.11 L258.8 545.71 L260.77 542.95 L262.73 539.48 L264.69 534.81 L266.65 528.58 L268.61 518.75 L270.58 502.3 L272.54 466.77 L274.5 340 L274.7 340 L274.9 604.5 L275.8 607 L277.5 607.4 L321.2 607.4 L364.9 607.4 L366.6 607 L367.5 604.5 L367.7 340 L367.9 340 L369.86 466.77 L371.82 502.3 L373.79 518.75 L375.75 528.58 L377.71 534.81 L379.67 539.48 L381.63 542.95 L383.6 545.71 L385.56 548.11 L387.52 550.16 L389.48 551.86 L391.44 553.22 L393.41 554.27 L395.37 555.15 L397.33 555.89 L399.29 556.53 L401.25 557.12 L403.22 557.69 L405.18 558.24 L407.14 558.75 L409.1 559.24 L411.06 559.7 L413.03 560.11 L414.99 560.49 L416.95 560.83 L418.91 561.13 L420.87 561.42 L422.84 561.7 L424.8 561.96 L426.76 562.22 L428.72 562.46 L430.68 562.69 L432.65 562.91 L434.61 563.12 L436.57 563.32 L438.53 563.5 L440.49 563.68 L442.46 563.84 L444.42 563.99 L446.38 564.13 L448.34 564.26 L450.31 564.39 L452.27 564.51 L454.23 564.62 L456.19 564.74 L458.15 564.85 L460.12 564.95 L462.08 565.05 L464.04 565.15 L466 565.24 L467.96 565.32 L469.93 565.4 L471.89 565.48 L473.85 565.55 L475.81 565.62 L477.77 565.68 L479.74 565.73 L481.7 565.78 L483.66 565.83 L485.62 565.87 L487.58 565.92 L489.55 565.96 L491.51 566 L493.47 566.04 L495.43 566.08 L497.39 566.12 L499.36 566.16 L501.32 566.19 L503.28 566.23 L505.24 566.26 L507.2 566.28 L509.17 566.31 L511.13 566.33 L513.09 566.35 L515.05 566.37 L517.01 566.38 L518.98 566.39 L520.94 566.4 L522.9 566.4" fill="none" stroke="#000" stroke-width="3.4" stroke-linejoin="round" stroke-miterlimit="10"/>
<path d="M119.5 566 L121.71 566 L123.91 565.99 L126.12 565.97 L128.32 565.95 L130.53 565.92 L132.73 565.89 L134.94 565.85 L137.14 565.81 L139.35 565.76 L141.55 565.71 L143.76 565.66 L145.96 565.6 L148.17 565.55 L150.37 565.48 L152.58 565.42 L154.78 565.36 L156.99 565.29 L159.19 565.22 L161.4 565.16 L163.6 565.08 L165.81 564.99 L168.01 564.89 L170.22 564.78 L172.42 564.66 L174.63 564.53 L176.83 564.4 L179.04 564.25 L181.24 564.1 L183.45 563.94 L185.65 563.77 L187.86 563.6 L190.06 563.42 L192.27 563.24 L194.47 563.05 L196.68 562.85 L198.88 562.64 L201.09 562.42 L203.29 562.18 L205.5 561.93 L207.7 561.66 L209.91 561.37 L212.11 561.06 L214.32 560.72 L216.52 560.36 L218.73 559.97 L220.93 559.55 L223.14 559.11 L225.34 558.62 L227.55 558.05 L229.75 557.33 L231.96 556.46 L234.16 555.4 L236.37 554.12 L238.57 552.38 L240.78 550.01 L242.98 546.83 L245.19 541.37 L247.39 530.02 L249.6 469.8 L250.3 469.8 L250.6 581.5 L251.3 583.4 L252.8 584 L253.94 583.91 L255.08 583.8 L256.22 583.67 L257.36 583.52 L258.51 583.36 L259.65 583.18 L260.79 582.98 L261.93 582.78 L263.07 582.56 L264.21 582.32 L265.35 582.08 L266.49 581.83 L267.63 581.57 L268.77 581.31 L269.92 581.04 L271.06 580.77 L272.2 580.49 L273.34 580.2 L274.48 579.9 L275.62 579.57 L276.76 579.22 L277.9 578.82 L279.04 578.39 L280.18 577.91 L281.33 577.37 L282.47 576.76 L283.61 576.08 L284.75 575.21 L285.89 574.1 L287.03 572.73 L288.17 571.08 L289.31 569.13 L290.45 566.84 L291.59 563.81 L292.74 559.08 L293.88 552.39 L295.02 541.88 L296.16 522.41 L297.3 496.8 L297.9 496.8 L298.3 604.5 L299 606.6 L300.5 607.2 L321.2 607.2 L341.9 607.2 L343.4 606.6 L344.1 604.5 L344.5 496.8 L345.1 496.8 L346.24 522.41 L347.38 541.88 L348.52 552.39 L349.66 559.08 L350.81 563.81 L351.95 566.84 L353.09 569.13 L354.23 571.08 L355.37 572.73 L356.51 574.1 L357.65 575.21 L358.79 576.08 L359.93 576.76 L361.07 577.37 L362.22 577.91 L363.36 578.39 L364.5 578.82 L365.64 579.22 L366.78 579.57 L367.92 579.9 L369.06 580.2 L370.2 580.49 L371.34 580.77 L372.48 581.04 L373.63 581.31 L374.77 581.57 L375.91 581.83 L377.05 582.08 L378.19 582.32 L379.33 582.56 L380.47 582.78 L381.61 582.98 L382.75 583.18 L383.89 583.36 L385.04 583.52 L386.18 583.67 L387.32 583.8 L388.46 583.91 L389.6 584 L391.1 583.4 L391.8 581.5 L392.1 469.8 L392.8 469.8 L395.01 530.02 L397.21 541.37 L399.42 546.83 L401.62 550.01 L403.83 552.38 L406.03 554.12 L408.24 555.4 L410.44 556.46 L412.65 557.33 L414.85 558.05 L417.06 558.62 L419.26 559.11 L421.47 559.55 L423.67 559.97 L425.88 560.36 L428.08 560.72 L430.29 561.06 L432.49 561.37 L434.7 561.66 L436.9 561.93 L439.11 562.18 L441.31 562.42 L443.52 562.64 L445.72 562.85 L447.93 563.05 L450.13 563.24 L452.34 563.42 L454.54 563.6 L456.75 563.77 L458.95 563.94 L461.16 564.1 L463.36 564.25 L465.57 564.4 L467.77 564.53 L469.98 564.66 L472.18 564.78 L474.39 564.89 L476.59 564.99 L478.8 565.08 L481 565.16 L483.21 565.22 L485.41 565.29 L487.62 565.36 L489.82 565.42 L492.03 565.48 L494.23 565.55 L496.44 565.6 L498.64 565.66 L500.85 565.71 L503.05 565.76 L505.26 565.81 L507.46 565.85 L509.67 565.89 L511.87 565.92 L514.08 565.95 L516.28 565.97 L518.49 565.99 L520.69 566 L522.9 566" fill="none" stroke="#0000ff" stroke-width="1.2" stroke-linejoin="round" stroke-miterlimit="10"/>
<path d="M119.5 565.5 L120.91 565.46 L122.32 565.41 L123.73 565.36 L125.13 565.3 L126.54 565.24 L127.95 565.17 L129.36 565.1 L130.77 565.03 L132.18 564.96 L133.58 564.88 L134.99 564.8 L136.4 564.71 L137.81 564.63 L139.22 564.54 L140.63 564.45 L142.04 564.35 L143.44 564.26 L144.85 564.16 L146.26 564.06 L147.67 563.96 L149.08 563.86 L150.49 563.76 L151.89 563.65 L153.3 563.53 L154.71 563.42 L156.12 563.29 L157.53 563.16 L158.94 563.02 L160.35 562.88 L161.75 562.72 L163.16 562.56 L164.57 562.39 L165.98 562.21 L167.39 562.01 L168.8 561.81 L170.21 561.59 L171.61 561.32 L173.02 561.02 L174.43 560.68 L175.84 560.29 L177.25 559.88 L178.66 559.43 L180.06 558.94 L181.47 558.44 L182.88 557.9 L184.29 557.33 L185.7 556.71 L187.11 556 L188.52 555.19 L189.92 554.25 L191.33 553.16 L192.74 551.87 L194.15 550.11 L195.56 547.68 L196.97 544.41 L198.37 539.58 L199.78 530.65 L201.19 508.69 L202.6 453.9 L203.4 453.9 L203.8 582.5 L204.6 585 L206.5 586 L206.5 586" fill="none" stroke="#ff0000" stroke-width="2.8" stroke-linejoin="round" stroke-miterlimit="10" stroke-dasharray="12.5 7.7"/>
<path d="M206.5 586 L287 586 L293.2 584.8 L296.4 582.6 L297.6 579 L298.2 469.8 L298.99 503.01 L299.79 519.57 L300.58 527.66 L301.37 533.02 L302.17 536.67 L302.96 539.58 L303.75 541.98 L304.54 543.92 L305.34 545.41 L306.13 546.54 L306.92 547.52 L307.72 548.41 L308.51 549.22 L309.3 549.95 L310.1 550.59 L310.89 551.15 L311.68 551.63 L312.48 552.03 L313.27 552.35 L314.06 552.63 L314.86 552.89 L315.65 553.14 L316.44 553.37 L317.23 553.57 L318.03 553.75 L318.82 553.9 L319.61 554.01 L320.41 554.08 L321.2 554.1 L321.99 554.08 L322.79 554.01 L323.58 553.9 L324.37 553.75 L325.17 553.57 L325.96 553.37 L326.75 553.14 L327.54 552.89 L328.34 552.63 L329.13 552.35 L329.92 552.03 L330.72 551.63 L331.51 551.15 L332.3 550.59 L333.1 549.95 L333.89 549.22 L334.68 548.41 L335.48 547.52 L336.27 546.54 L337.06 545.41 L337.86 543.92 L338.65 541.98 L339.44 539.58 L340.23 536.67 L341.03 533.02 L341.82 527.66 L342.61 519.57 L343.41 503.01 L344.2 469.8 L344.8 579 L346 582.6 L349.2 584.8 L355.4 586 L435.9 586" fill="none" stroke="#ff0000" stroke-width="2.8" stroke-linejoin="round" stroke-miterlimit="10" stroke-dasharray="12.5 7.7"/>
<path d="M435.9 586 L437.8 585 L438.6 582.5 L439 453.9 L439.8 453.9 L441.21 508.69 L442.62 530.65 L444.03 539.58 L445.43 544.41 L446.84 547.68 L448.25 550.11 L449.66 551.87 L451.07 553.16 L452.48 554.25 L453.88 555.19 L455.29 556 L456.7 556.71 L458.11 557.33 L459.52 557.9 L460.93 558.44 L462.34 558.94 L463.74 559.43 L465.15 559.88 L466.56 560.29 L467.97 560.68 L469.38 561.02 L470.79 561.32 L472.19 561.59 L473.6 561.81 L475.01 562.01 L476.42 562.21 L477.83 562.39 L479.24 562.56 L480.65 562.72 L482.05 562.88 L483.46 563.02 L484.87 563.16 L486.28 563.29 L487.69 563.42 L489.1 563.53 L490.51 563.65 L491.91 563.76 L493.32 563.86 L494.73 563.96 L496.14 564.06 L497.55 564.16 L498.96 564.26 L500.36 564.35 L501.77 564.45 L503.18 564.54 L504.59 564.63 L506 564.71 L507.41 564.8 L508.82 564.88 L510.22 564.96 L511.63 565.03 L513.04 565.1 L514.45 565.17 L515.86 565.24 L517.27 565.3 L518.67 565.36 L520.08 565.41 L521.49 565.46 L522.9 565.5" fill="none" stroke="#ff0000" stroke-width="2.8" stroke-linejoin="round" stroke-miterlimit="10" stroke-dasharray="12.5 7.7"/>
</g>
<rect x="119.5" y="355" width="403.4" height="254.4" fill="none" stroke="#000" stroke-width="1.6"/>
<line x1="119.5" y1="567.4" x2="136.1" y2="567.4" stroke="#000" stroke-width="1.6"/>
<line x1="119.5" y1="461.1" x2="136.1" y2="461.1" stroke="#000" stroke-width="1.6"/>
<line x1="119.5" y1="514.25" x2="127.7" y2="514.25" stroke="#000" stroke-width="1.6"/>
<line x1="119.5" y1="407.95" x2="127.7" y2="407.95" stroke="#000" stroke-width="1.6"/>
<line x1="186.73" y1="609.4" x2="186.73" y2="592.8" stroke="#000" stroke-width="1.6"/>
<line x1="321.2" y1="609.4" x2="321.2" y2="592.8" stroke="#000" stroke-width="1.6"/>
<line x1="455.67" y1="609.4" x2="455.67" y2="592.8" stroke="#000" stroke-width="1.6"/>
<line x1="253.97" y1="609.4" x2="253.97" y2="601.2" stroke="#000" stroke-width="1.6"/>
<line x1="388.43" y1="609.4" x2="388.43" y2="601.2" stroke="#000" stroke-width="1.6"/>
<g fill="#000"><text x="48.7" y="367.2" font-size="36">1.02</text></g>
<g fill="#000"><text x="48.7" y="473.3" font-size="36">1.01</text></g>
<g fill="#000"><text x="93.7" y="579.6" font-size="36">1</text></g>
<g fill="#000"><text x="172.24" y="643.3" font-size="36">-1</text></g>
<g fill="#000"><text x="312.2" y="643.3" font-size="36">0</text></g>
<g fill="#000"><text x="446.67" y="643.3" font-size="36">1</text></g>
<g fill="#000"><text x="294.77" y="675.6" font-size="36">ε</text><text x="309.89" y="675.6" font-size="36">/</text><text x="319.89" y="675.6" font-size="36">ε</text><text x="335.01" y="689.2" font-size="25.2">0</text></g>
<g fill="#000" transform="rotate(-90 26.2 482.2)"><text x="-28.67" y="482.2" font-size="36" font-style="italic">N</text><text x="-4.66" y="482.2" font-size="36" font-style="italic">(</text><text x="7.33" y="482.2" font-size="36">ε</text><text x="22.44" y="482.2" font-size="36" font-style="italic">)</text><text x="34.43" y="482.2" font-size="36" font-style="italic">/</text><text x="44.44" y="482.2" font-size="36" font-style="italic">N</text><text x="68.45" y="495.8" font-size="25.2">0</text></g>
<g fill="#000"><text x="130.7" y="390.3" font-size="29">(c)</text></g>
<rect x="399.6" y="363.6" width="149.8" height="112.4" fill="#fff" stroke="#000" stroke-width="1.6"/>
<line x1="409.8" y1="385.5" x2="443.8" y2="385.5" stroke="#000" stroke-width="3.5"/>
<line x1="409.8" y1="420.2" x2="443.8" y2="420.2" stroke="#0000ff" stroke-width="1.2"/>
<line x1="409.8" y1="454.8" x2="443.8" y2="454.8" stroke="#ff0000" stroke-width="2.9" stroke-dasharray="12.5 7.7"/>
<g fill="#000"><text x="461.6" y="389.9" font-size="25">θ</text><text x="473.58" y="398.5" font-size="16.5" font-style="italic">N</text><text x="484.58" y="389.9" font-size="25">=</text><text x="498.68" y="389.9" font-size="25">0</text></g>
<g fill="#000"><text x="461.6" y="424.6" font-size="25">θ</text><text x="473.58" y="433.2" font-size="16.5" font-style="italic">N</text><text x="484.58" y="424.6" font-size="25">=</text><text x="498.68" y="424.6" font-size="25">0.05</text></g>
<g fill="#000"><text x="461.6" y="459.2" font-size="25">θ</text><text x="473.58" y="467.8" font-size="16.5" font-style="italic">N</text><text x="484.58" y="459.2" font-size="25">=</text><text x="498.68" y="459.2" font-size="25">0.15</text></g>
<clipPath id="cD"><rect x="629.4" y="355.4" width="340.2" height="254.6"/></clipPath>
<g clip-path="url(#cD)">
<path d="M629.2 565.6 L630.31 565.56 L631.43 565.51 L632.54 565.43 L633.65 565.33 L634.77 565.21 L635.88 565.08 L636.99 564.94 L638.11 564.78 L639.22 564.62 L640.34 564.45 L641.45 564.27 L642.56 564.09 L643.68 563.88 L644.79 563.64 L645.9 563.37 L647.02 563.07 L648.13 562.75 L649.24 562.42 L650.36 562.06 L651.47 561.68 L652.58 561.29 L653.7 560.88 L654.81 560.46 L655.93 560.03 L657.04 559.58 L658.15 559.1 L659.27 558.58 L660.38 558.03 L661.49 557.44 L662.61 556.82 L663.72 556.16 L664.83 555.46 L665.95 554.73 L667.06 553.97 L668.17 553.16 L669.29 552.3 L670.4 551.38 L671.52 550.39 L672.63 549.34 L673.74 548.21 L674.86 547.01 L675.97 545.73 L677.08 544.36 L678.2 542.91 L679.31 541.34 L680.42 539.59 L681.54 537.62 L682.65 535.44 L683.76 533.03 L684.88 530.36 L685.99 527.44 L687.11 524.13 L688.22 520.23 L689.33 515.54 L690.45 509.84 L691.56 502.5 L692.67 491.69 L693.79 472.3 L694.9 430.4 L696 490.4 L697.4 560.8 L698.2 604.5 L699.5 606.8 L702.5 607.4 L962.8 607.6" fill="none" stroke="#000" stroke-width="2.8" stroke-linejoin="miter" stroke-miterlimit="10"/>
</g>
<rect x="629.4" y="355.4" width="340.2" height="254.6" fill="none" stroke="#000" stroke-width="1.6"/>
<line x1="629.4" y1="565.5" x2="646" y2="565.5" stroke="#000" stroke-width="1.6"/>
<line x1="969.6" y1="565.5" x2="953" y2="565.5" stroke="#000" stroke-width="1.6"/>
<line x1="629.4" y1="454.6" x2="646" y2="454.6" stroke="#000" stroke-width="1.6"/>
<line x1="969.6" y1="454.6" x2="953" y2="454.6" stroke="#000" stroke-width="1.6"/>
<line x1="629.4" y1="510.05" x2="637.6" y2="510.05" stroke="#000" stroke-width="1.6"/>
<line x1="969.6" y1="510.05" x2="961.4" y2="510.05" stroke="#000" stroke-width="1.6"/>
<line x1="629.4" y1="399.15" x2="637.6" y2="399.15" stroke="#000" stroke-width="1.6"/>
<line x1="969.6" y1="399.15" x2="961.4" y2="399.15" stroke="#000" stroke-width="1.6"/>
<line x1="697.44" y1="610" x2="697.44" y2="593.4" stroke="#000" stroke-width="1.6"/>
<line x1="765.48" y1="610" x2="765.48" y2="593.4" stroke="#000" stroke-width="1.6"/>
<line x1="833.52" y1="610" x2="833.52" y2="593.4" stroke="#000" stroke-width="1.6"/>
<line x1="901.56" y1="610" x2="901.56" y2="593.4" stroke="#000" stroke-width="1.6"/>
<line x1="663.42" y1="610" x2="663.42" y2="601.8" stroke="#000" stroke-width="1.6"/>
<line x1="731.46" y1="610" x2="731.46" y2="601.8" stroke="#000" stroke-width="1.6"/>
<line x1="799.5" y1="610" x2="799.5" y2="601.8" stroke="#000" stroke-width="1.6"/>
<line x1="867.54" y1="610" x2="867.54" y2="601.8" stroke="#000" stroke-width="1.6"/>
<line x1="935.58" y1="610" x2="935.58" y2="601.8" stroke="#000" stroke-width="1.6"/>
<g fill="#000"><text x="558.6" y="466.8" font-size="36">1.01</text></g>
<g fill="#000"><text x="603.6" y="577.7" font-size="36">1</text></g>
<g fill="#000"><text x="620.4" y="643.6" font-size="36">0</text></g>
<g fill="#000"><text x="674.94" y="643.6" font-size="36">0.2</text></g>
<g fill="#000"><text x="742.98" y="643.6" font-size="36">0.4</text></g>
<g fill="#000"><text x="811.02" y="643.6" font-size="36">0.6</text></g>
<g fill="#000"><text x="879.06" y="643.6" font-size="36">0.8</text></g>
<g fill="#000"><text x="960.6" y="643.6" font-size="36">1</text></g>
<g fill="#000"><text x="783.68" y="675.3" font-size="36" font-style="italic">T</text><text x="803.7" y="689.1" font-size="25.2">0</text></g>
<g fill="#000"><text x="639.4" y="393.3" font-size="29">(d)</text></g>
<g fill="#000" transform="rotate(-90 611 432.5)"><text x="611" y="432.5" font-size="29" font-style="italic">N</text><text x="630.34" y="432.5" font-size="29" font-style="italic">(</text><text x="640" y="432.5" font-size="29">0</text><text x="654.5" y="432.5" font-size="29" font-style="italic">)</text><text x="664.96" y="432.5" font-size="29" font-style="italic">/</text><text x="673.81" y="432.5" font-size="29" font-style="italic">N</text><text x="693.16" y="444.7" font-size="20.3">0</text></g>
<rect x="782.3" y="363.6" width="178.7" height="161.2" fill="#fff"/>
<clipPath id="cI"><rect x="782.3" y="363.6" width="178.7" height="161.2"/></clipPath>
<g clip-path="url(#cI)">
<path d="M817.2 460 L817.4 440 L818.3 391.3 L819 410 L819.8 423.3 L822.61 435.71 L825.42 439.51 L828.23 441.74 L831.03 443.11 L833.84 443.9 L836.65 444.5 L839.46 444.97 L842.27 445.35 L845.08 445.69 L847.89 446 L850.7 446.28 L853.5 446.53 L856.31 446.75 L859.12 446.95 L861.93 447.12 L864.74 447.28 L867.55 447.43 L870.36 447.56 L873.17 447.65 L875.97 447.72 L878.78 447.77 L881.59 447.82 L884.4 447.86 L887.21 447.9 L890.02 447.93 L892.83 447.96 L895.63 447.98 L898.44 447.99 L901.25 448 L904.06 448.01 L906.87 448.02 L909.68 448.03 L912.49 448.04 L915.3 448.05 L918.1 448.05 L920.91 448.06 L923.72 448.06 L926.53 448.07 L929.34 448.08 L932.15 448.08 L934.96 448.08 L937.77 448.09 L940.57 448.09 L943.38 448.09 L946.19 448.1 L949 448.1 L951.81 448.1 L954.62 448.1 L957.43 448.1 L957.43 460" fill="url(#pb)" stroke="none" stroke-width="0" stroke-linejoin="miter" stroke-miterlimit="10"/>
<path d="M782.3 459.8 L816.3 459.8 L817.4 440 L818.3 391.3 L819 410 L819.8 423.3 L822.61 435.71 L825.42 439.51 L828.23 441.74 L831.03 443.11 L833.84 443.9 L836.65 444.5 L839.46 444.97 L842.27 445.35 L845.08 445.69 L847.89 446 L850.7 446.28 L853.5 446.53 L856.31 446.75 L859.12 446.95 L861.93 447.12 L864.74 447.28 L867.55 447.43 L870.36 447.56 L873.17 447.65 L875.97 447.72 L878.78 447.77 L881.59 447.82 L884.4 447.86 L887.21 447.9 L890.02 447.93 L892.83 447.96 L895.63 447.98 L898.44 447.99 L901.25 448 L904.06 448.01 L906.87 448.02 L909.68 448.03 L912.49 448.04 L915.3 448.05 L918.1 448.05 L920.91 448.06 L923.72 448.06 L926.53 448.07 L929.34 448.08 L932.15 448.08 L934.96 448.08 L937.77 448.09 L940.57 448.09 L943.38 448.09 L946.19 448.1 L949 448.1 L951.81 448.1 L954.62 448.1 L957.43 448.1" fill="none" stroke="#0000ff" stroke-width="2.8" stroke-linejoin="miter" stroke-miterlimit="10"/>
<path d="M782.3 460 L782.6 460.7 L783.46 460.96 L784.32 461.23 L785.18 461.52 L786.04 461.83 L786.89 462.14 L787.75 462.47 L788.61 462.81 L789.47 463.17 L790.33 463.53 L791.19 463.9 L792.05 464.29 L792.91 464.68 L793.77 465.08 L794.63 465.49 L795.48 465.92 L796.34 466.37 L797.2 466.83 L798.06 467.32 L798.92 467.84 L799.78 468.38 L800.64 468.95 L801.5 469.55 L802.36 470.19 L803.22 470.87 L804.07 471.6 L804.93 472.4 L805.79 473.26 L806.65 474.19 L807.51 475.21 L808.37 476.33 L809.23 477.59 L810.09 479.06 L810.95 480.78 L811.81 482.81 L812.66 485.53 L813.52 489.14 L814.38 493.5 L815.24 498.85 L816.1 509 L816.9 509 L817.6 462 L817.5 460" fill="url(#pr)" stroke="none" stroke-width="0" stroke-linejoin="miter" stroke-miterlimit="10"/>
<path d="M782.6 460.7 L783.46 460.96 L784.32 461.23 L785.18 461.52 L786.04 461.83 L786.89 462.14 L787.75 462.47 L788.61 462.81 L789.47 463.17 L790.33 463.53 L791.19 463.9 L792.05 464.29 L792.91 464.68 L793.77 465.08 L794.63 465.49 L795.48 465.92 L796.34 466.37 L797.2 466.83 L798.06 467.32 L798.92 467.84 L799.78 468.38 L800.64 468.95 L801.5 469.55 L802.36 470.19 L803.22 470.87 L804.07 471.6 L804.93 472.4 L805.79 473.26 L806.65 474.19 L807.51 475.21 L808.37 476.33 L809.23 477.59 L810.09 479.06 L810.95 480.78 L811.81 482.81 L812.66 485.53 L813.52 489.14 L814.38 493.5 L815.24 498.85 L816.1 509 L816.9 509 L817.6 462 L818.6 460.5 L957.43 460.5" fill="none" stroke="#ff0000" stroke-width="2.8" stroke-linejoin="miter" stroke-miterlimit="10"/>
</g>
<rect x="782.3" y="363.6" width="178.7" height="161.2" fill="none" stroke="#000" stroke-width="1.6"/>
<line x1="782.3" y1="492.28" x2="798.9" y2="492.28" stroke="#000" stroke-width="1.6"/>
<line x1="961" y1="492.28" x2="944.4" y2="492.28" stroke="#000" stroke-width="1.6"/>
<line x1="782.3" y1="460" x2="798.9" y2="460" stroke="#000" stroke-width="1.6"/>
<line x1="961" y1="460" x2="944.4" y2="460" stroke="#000" stroke-width="1.6"/>
<line x1="782.3" y1="427.72" x2="798.9" y2="427.72" stroke="#000" stroke-width="1.6"/>
<line x1="961" y1="427.72" x2="944.4" y2="427.72" stroke="#000" stroke-width="1.6"/>
<line x1="782.3" y1="395.44" x2="798.9" y2="395.44" stroke="#000" stroke-width="1.6"/>
<line x1="961" y1="395.44" x2="944.4" y2="395.44" stroke="#000" stroke-width="1.6"/>
<line x1="782.3" y1="508.42" x2="790.5" y2="508.42" stroke="#000" stroke-width="1.6"/>
<line x1="961" y1="508.42" x2="952.8" y2="508.42" stroke="#000" stroke-width="1.6"/>
<line x1="782.3" y1="476.14" x2="790.5" y2="476.14" stroke="#000" stroke-width="1.6"/>
<line x1="961" y1="476.14" x2="952.8" y2="476.14" stroke="#000" stroke-width="1.6"/>
<line x1="782.3" y1="443.86" x2="790.5" y2="443.86" stroke="#000" stroke-width="1.6"/>
<line x1="961" y1="443.86" x2="952.8" y2="443.86" stroke="#000" stroke-width="1.6"/>
<line x1="782.3" y1="411.58" x2="790.5" y2="411.58" stroke="#000" stroke-width="1.6"/>
<line x1="961" y1="411.58" x2="952.8" y2="411.58" stroke="#000" stroke-width="1.6"/>
<line x1="782.3" y1="379.3" x2="790.5" y2="379.3" stroke="#000" stroke-width="1.6"/>
<line x1="961" y1="379.3" x2="952.8" y2="379.3" stroke="#000" stroke-width="1.6"/>
<line x1="871.65" y1="524.8" x2="871.65" y2="508.2" stroke="#000" stroke-width="1.6"/>
<line x1="871.65" y1="363.6" x2="871.65" y2="380.2" stroke="#000" stroke-width="1.6"/>
<line x1="826.97" y1="524.8" x2="826.97" y2="516.6" stroke="#000" stroke-width="1.6"/>
<line x1="826.97" y1="363.6" x2="826.97" y2="371.8" stroke="#000" stroke-width="1.6"/>
<line x1="916.33" y1="524.8" x2="916.33" y2="516.6" stroke="#000" stroke-width="1.6"/>
<line x1="916.33" y1="363.6" x2="916.33" y2="371.8" stroke="#000" stroke-width="1.6"/>
<g fill="#000"><text x="731.82" y="403.94" font-size="24.5">0.02</text></g>
<g fill="#000"><text x="731.82" y="436.22" font-size="24.5">0.01</text></g>
<g fill="#000"><text x="762.45" y="468.5" font-size="24.5">0</text></g>
<g fill="#000"><text x="723.66" y="500.78" font-size="24.5">-0.01</text></g>
<g fill="#000"><text x="723.66" y="533.06" font-size="24.5">-0.02</text></g>
<g fill="#000"><text x="776.17" y="550.2" font-size="24.5">0</text></g>
<g fill="#000"><text x="856.34" y="550.2" font-size="24.5">0.5</text></g>
<g fill="#000"><text x="954.88" y="550.2" font-size="24.5">1</text></g>
<g fill="#000"><text x="862.57" y="573.5" font-size="22.5" font-style="italic">T</text><text x="875.08" y="583.1" font-size="14.62">0</text></g>
<g fill="#0000ff"><text x="841.6" y="423.3" font-size="29">Im</text><text x="878.68" y="423.3" font-size="29" font-style="italic">f</text><text x="890.53" y="435.19" font-size="18.85" font-style="italic">s</text><text x="898.33" y="423.3" font-size="29" font-style="italic">(</text><text x="908.69" y="423.3" font-size="29">0</text><text x="923.89" y="423.3" font-size="29" font-style="italic">)</text></g>
<g fill="#ff0000"><text x="836.6" y="489" font-size="29">Re</text><text x="873.68" y="489" font-size="29" font-style="italic">f</text><text x="885.53" y="500.89" font-size="18.85" font-style="italic">t</text><text x="891.24" y="489" font-size="29" font-style="italic">(</text><text x="901.6" y="489" font-size="29">0</text><text x="916.8" y="489" font-size="29" font-style="italic">)</text></g>
</svg>
</body></html>
